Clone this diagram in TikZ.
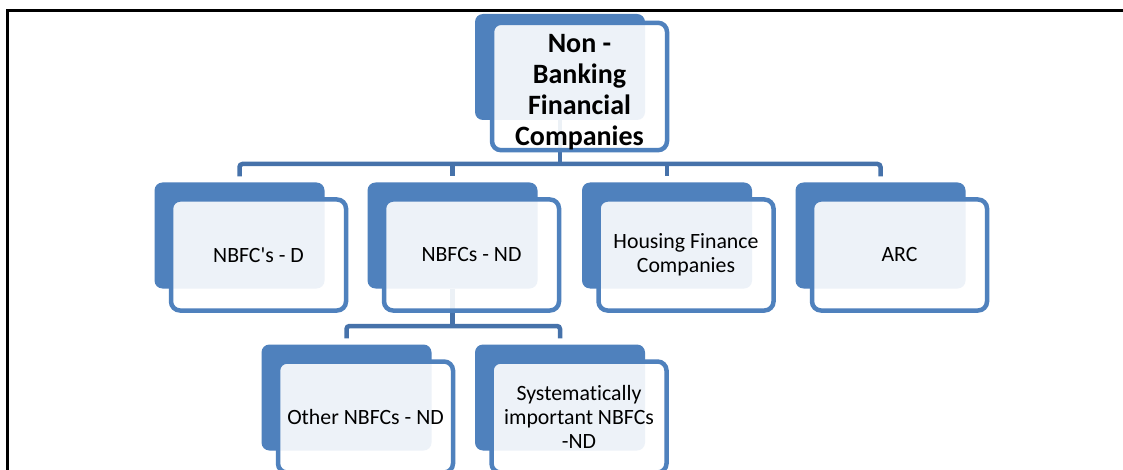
\documentclass[tikz,border=0pt]{standalone}
\usepackage{fontspec}
\setmainfont{Carlito}[Ligatures={TeXOff,NoCommon}]
\definecolor{acc}{HTML}{4F81BD}
\definecolor{connc}{HTML}{4672AA}
\tikzset{
 backbox/.style={rectangle, rounded corners=8pt, fill=acc, minimum width=170pt, minimum height=106pt, inner sep=0pt},
 frontbox/.style={rectangle, rounded corners=9pt, draw=acc, line width=4.5pt, fill=white, fill opacity=0.9, text opacity=1, draw opacity=1, minimum width=175pt, minimum height=111pt, align=center, inner sep=0pt, font=\fontsize{21.8}{24}\selectfont},
 conn/.style={draw=connc, line width=4.5pt, rounded corners=3pt},
 frame/.style={draw=black, line width=3pt}
}
\begin{document}
\begin{tikzpicture}[x=1pt,y=-1pt]
\useasboundingbox (0,0) rectangle (1123,470);
\fill[white] (0,0) rectangle (1123,470);
\draw[frame] (7.5,472) -- (7.5,11) -- (1124,11);
\coordinate (bus1) at (0,164);
\coordinate (bus2) at (0,326);
% back shapes
\node[backbox] (topb) at (560,67) {};
\node[backbox] (ab) at (239.5,235.5) {};
\node[backbox] (bb) at (452.5,235.5) {};
\node[backbox] (cb) at (667,235.5) {};
\node[backbox] (db) at (880.5,235.5) {};
\node[backbox] (eb) at (346.5,397.5) {};
\node[backbox] (fb) at (560,397.5) {};
% connectors
\draw[conn] (topb.south) -- (topb.south |- bus1);
\draw[conn] ([yshift=6pt]ab.north) |- (db.north |- bus1) -- ([yshift=6pt]db.north);
\draw[conn] (bb.north |- bus1) -- ([yshift=6pt]bb.north);
\draw[conn] (cb.north |- bus1) -- ([yshift=6pt]cb.north);
\draw[conn] (bb.south) -- (bb.south |- bus2);
\draw[conn] ([yshift=6pt]eb.north) |- (fb.north |- bus2) -- ([yshift=6pt]fb.north);
% front shapes
\node[frontbox, font=\fontsize{28}{31}\selectfont\bfseries] (top) at (579.5,86.5) {\rule{0pt}{30pt}Non -\\Banking\\Financial\\Companies};
\node[frontbox] (a) at (258.5,255) {NBFC's - D};
\node[frontbox] (b) at (471.5,255) {NBFCs - ND};
\node[frontbox] (c) at (686,255) {Housing Finance\\Companies};
\node[frontbox] (d) at (899.5,255) {ARC};
\node[frontbox] (e) at (365.5,417) {Other NBFCs - ND};
\node[frontbox] (f) at (579,417) {Systematically\\important NBFCs\\-ND};
\end{tikzpicture}
\end{document}
